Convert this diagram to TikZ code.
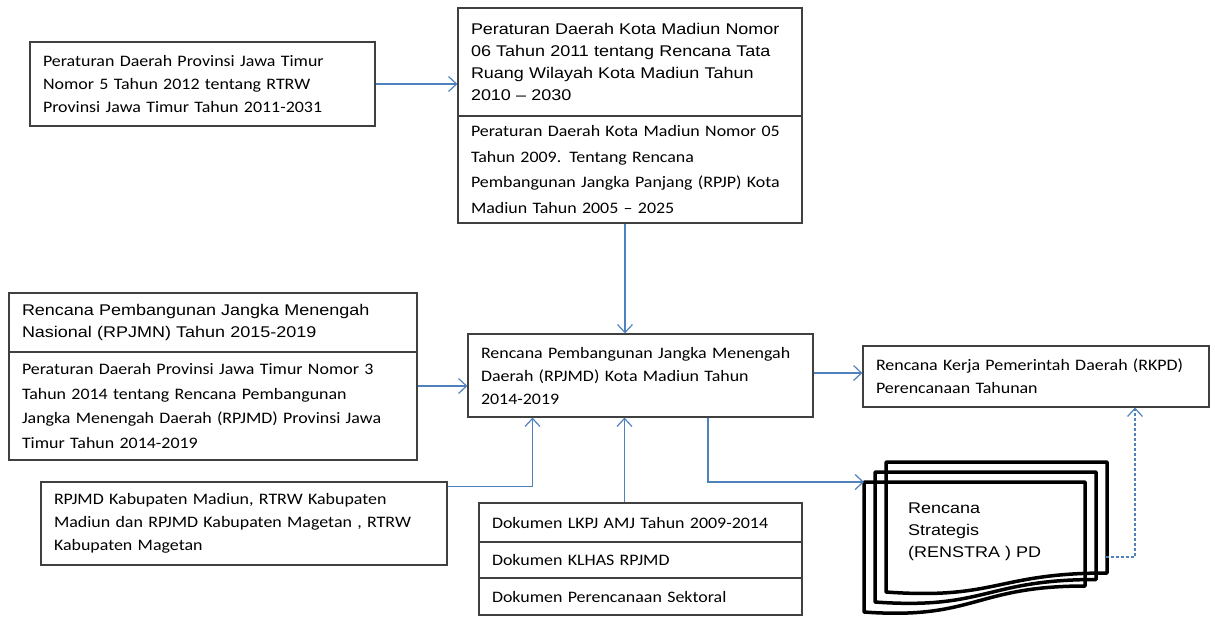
\documentclass[tikz,border=0pt]{standalone}
\usepackage{fontspec}
\setmainfont{Carlito}[FakeStretch=1.12]
\newfontfamily\arialfont{Liberation Sans}[FakeStretch=1.16]
\usetikzlibrary{arrows.meta}
\usetikzlibrary{positioning}
\definecolor{edgeblue}{RGB}{79,129,189}
\definecolor{boxgray}{RGB}{64,64,64}
\tikzstyle{block} = [rectangle, draw=boxgray, fill=white, line width=1.2pt,
inner xsep=13pt, inner ysep=0pt, align=left, font=\fontsize{16}{23}\selectfont]
\tikzstyle{arial} = [font=\arialfont\fontsize{15.5}{22}\selectfont]
\tikzstyle{line} = [draw=edgeblue, -{Straight Barb[length=8pt,width=15pt]}, line width=1.2pt]
\tikzstyle{dashline} = [line, dash pattern=on 3pt off 2pt]
\tikzstyle{doc} = [draw=black, line width=3.5pt, line join=round]

\begin{document}
\begin{tikzpicture}[x=1pt, y=-1pt]
\useasboundingbox (0,0) rectangle (1215,616);
% Place nodes
	\node [block, text width=319pt, minimum height=84pt] (rtrw) at (202.5,84) {Peraturan Daerah Provinsi Jawa Timur\\Nomor 5 Tahun 2012 tentang RTRW\\Provinsi Jawa Timur Tahun 2011-2031};
	\node [block, arial, text width=318pt, minimum height=108pt] (perdakota) at (630,62) {Peraturan Daerah Kota Madiun Nomor\\06 Tahun 2011 tentang Rencana Tata\\Ruang Wilayah Kota Madiun Tahun\\2010 – 2030};
	\node [block, text width=318pt, minimum height=107pt, font=\fontsize{16}{25.5}\selectfont, below of=perdakota, node distance=107.5pt] (rpjp) {Peraturan Daerah Kota Madiun Nomor 05\\Tahun 2009. Tentang Rencana\\Pembangunan Jangka Panjang (RPJP) Kota\\Madiun Tahun 2005 – 2025};
	\node [block, text width=319pt, minimum height=83pt] (rpjmd) at (640.5,375.5) {Rencana Pembangunan Jangka Menengah\\Daerah (RPJMD) Kota Madiun Tahun\\2014-2019};
	\node [block, text width=320pt, minimum height=61pt] (rkpd) at (1036,376.5) {Rencana Kerja Pemerintah Daerah (RKPD)\\Perencanaan Tahunan};
	\node [block, arial, text width=382pt, minimum height=59pt] (rpjmn) at (213,322.5) {Rencana Pembangunan Jangka Menengah\\Nasional (RPJMN) Tahun 2015-2019};
	\node [block, text width=382pt, minimum height=108pt, font=\fontsize{16}{24.5}\selectfont, below of=rpjmn, node distance=83.5pt] (rpjmdjatim) {Peraturan Daerah Provinsi Jawa Timur Nomor 3\\Tahun 2014 tentang Rencana Pembangunan\\Jangka Menengah Daerah (RPJMD) Provinsi Jawa\\Timur Tahun 2014-2019};
	\node [block, text width=380pt, minimum height=83pt] (kabupaten) at (244,523.5) {RPJMD Kabupaten Madiun, RTRW Kabupaten\\Madiun dan RPJMD Kabupaten Magetan , RTRW\\Kabupaten Magetan};
	\node [block, text width=297pt, minimum height=39pt] (lkpj) at (640.5,522.5) {Dokumen LKPJ AMJ Tahun 2009-2014};
	\node [block, text width=297pt, minimum height=36pt, below of=lkpj, node distance=37.5pt] (klhas) {Dokumen KLHAS RPJMD};
	\node [block, text width=297pt, minimum height=37pt, below of=klhas, node distance=36.5pt] (sektoral) {Dokumen Perencanaan Sektoral};

% Renstra documents
	\foreach \k in {0,1,2}
		\draw [doc] (864+11*\k,482-10*\k) -- (1085+11*\k,482-10*\k) -- (1085+11*\k,586-6.5*\k)
			.. controls (974.5+11*\k,586-6.5*\k) and (974.5+11*\k,620-10*\k) .. (864+11*\k,612-10*\k) -- cycle;
	\coordinate (renstra) at (864,482);
	\coordinate (renstraback) at (1106,557);
	\node [arial, anchor=west, align=left, inner sep=0pt] (renstratext) at (908,532) {Rencana\\Strategis\\(RENSTRA ) PD};

% Draw edges
	\path [line] (rtrw.east) -- (rtrw.east -| perdakota.west);
	\path [line] ([xshift=-5pt]rpjp.south) -- ([xshift=-5pt]rpjp.south |- rpjmd.north);
	\path [line] ([yshift=20pt]rpjmdjatim.east) -- ([yshift=20pt]rpjmdjatim.east -| rpjmd.west);
	\path [line] ([yshift=-5pt]kabupaten.north east) -| ([xshift=-108pt]rpjmd.south);
	\path [line] ([xshift=-16pt]lkpj.north) -- ([xshift=-16pt]rpjmd.south);
	\path [line] ([xshift=67.5pt]rpjmd.south) |- (renstra);
	\path [line] ([yshift=2.5pt]rpjmd.east) -- ([yshift=2.5pt]rpjmd.east -| rkpd.west);
	\path [dashline] (renstraback) -| ([xshift=99pt]rkpd.south);

\end{tikzpicture}
\end{document}
